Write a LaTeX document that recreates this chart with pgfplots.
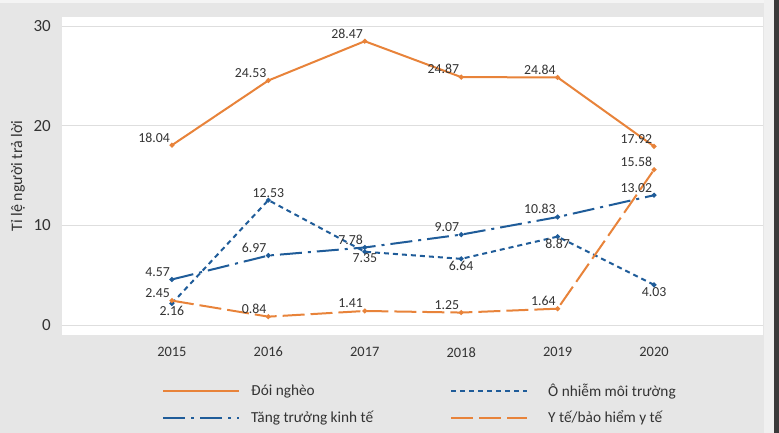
\documentclass[border=0pt]{standalone}
\usepackage{pgfplots}
\pgfplotsset{compat=1.18}
\usepackage{pgfplotstable}
\usepackage{fontspec}
\setmainfont{Carlito}

\definecolor{bg}{HTML}{E6E6E6}
\definecolor{strip}{HTML}{3A3A3A}
\definecolor{orng}{HTML}{E8833A}
\definecolor{blu}{HTML}{1F5C99}
\definecolor{navy}{HTML}{1E2F5A}
\definecolor{redmk}{HTML}{D42D46}
\definecolor{txt}{HTML}{333333}
\definecolor{grd}{HTML}{DEDEDE}

% year, value
\pgfplotstableread{
x y
2015 18.04
2016 24.53
2017 28.47
2018 24.87
2019 24.84
2020 17.92
}\doingheo
\pgfplotstableread{
x y
2015 2.16
2016 12.53
2017 7.35
2018 6.64
2019 8.87
2020 4.03
}\onhiem
\pgfplotstableread{
x y
2015 4.57
2016 6.97
2017 7.78
2018 9.07
2019 10.83
2020 13.02
}\tangtruong
\pgfplotstableread{
x y
2015 2.45
2016 0.84
2017 1.41
2018 1.25
2019 1.64
2020 15.58
}\yte

\pgfplotsset{
  lbl/.style={nodes near coords={\pgfmathprintnumber[fixed,fixed zerofill,precision=2]{\pgfplotspointmeta}}},
}

\begin{document}
\begin{tikzpicture}
\useasboundingbox (0,0) rectangle (779pt,433pt);
\fill[bg] (0,0) rectangle (779pt,433pt);
\fill[white!55!bg] (0,430pt) rectangle (779pt,433pt);
\fill[white!40!bg] (764pt,0) rectangle (774pt,433pt);
\fill[strip] (774pt,0) rectangle (779pt,433pt);
\begin{axis}[
  at={(62pt,98pt)}, anchor=south west,
  scale only axis, width=701pt, height=318pt,
  xmin=2013.86, xmax=2021.13, ymin=-1, ymax=30.9,
  axis background/.style={fill=white},
  axis line style={draw=none},
  major tick length=0pt,
  xtick={2015,2016,2017,2018,2019,2020},
  ytick={0,10,20,30},
  ymajorgrids, grid style={grd, line width=0.8pt},
  /pgf/number format/assume math mode=true,
  xticklabel style={/pgf/number format/1000 sep={}, font=\fontsize{14.4}{15}\selectfont, text=txt, inner sep=0pt, yshift=-12pt},
  yticklabel style={font=\fontsize{17}{18}\selectfont, text=txt, inner sep=0pt, xshift=-11pt},
  ylabel={Tỉ lệ người trả lời},
  ylabel style={at={(axis description cs:-0.0628,0.5)}, anchor=center, font=\fontsize{16}{18}\selectfont, text=txt},
  clip=false,
  every node near coord/.style={font=\fontsize{13.8}{15}\selectfont, text=txt, inner sep=1pt, anchor=south east, yshift=1pt},
  legend columns=2,
  legend style={at={(0.1427,-0.1530)}, anchor=north west, draw=none, fill=none, inner sep=0pt,
    font=\fontsize{15.3}{16}\selectfont, text=txt,
    nodes={inner sep=0pt}, cells={anchor=west}, row sep=13pt,
    /tikz/every odd column/.append style={column sep=11pt}},
  legend image code/.code={\draw[#1, mark=none] (0pt,0pt) -- (76pt,0pt);},
]
\addplot[orng, line width=2pt, mark=*, mark size=1.3pt, mark options={draw=none, fill=navy}, lbl]
  table[x=x, y=y] {\doingheo};
\addlegendentry{\makebox[199pt][l]{Đói nghèo}}
\addplot[blu, line width=2pt, dash pattern=on 5pt off 4pt, mark=*, mark size=1.3pt, mark options={solid, draw=none, fill=redmk}]
  table[x=x, y=y] {\onhiem};
\addlegendentry{\makebox[150pt][l]{\hspace*{9pt}Ô nhiễm môi trường}}
\addplot[blu, line width=2pt, dash pattern=on 22pt off 6pt on 3pt off 6pt, mark=*, mark size=1.3pt, mark options={solid, draw=none, fill=orng}, lbl]
  table[x=x, y=y] {\tangtruong};
\addlegendentry{\makebox[199pt][l]{Tăng trưởng kinh tế}}
\addplot[orng, line width=2pt, dash pattern=on 22pt off 6pt, mark=*, mark size=1.3pt, mark options={solid, draw=none, fill=navy}, lbl]
  table[x=x, y=y] {\yte};
\addlegendentry{\makebox[150pt][l]{\hspace*{9pt}Y tế/bảo hiểm y tế}}
% labels of the pollution series: below the points, above for 2016
\addplot[draw=none, forget plot, lbl, x filter/.expression={x==2016 ? nan : x},
  every node near coord/.append style={anchor=north, yshift=-2pt}]
  table[x=x, y=y] {\onhiem};
\addplot[draw=none, forget plot, lbl, x filter/.expression={x==2016 ? x : nan},
  every node near coord/.append style={anchor=south}]
  table[x=x, y=y] {\onhiem};
\end{axis}
\end{tikzpicture}
\end{document}
